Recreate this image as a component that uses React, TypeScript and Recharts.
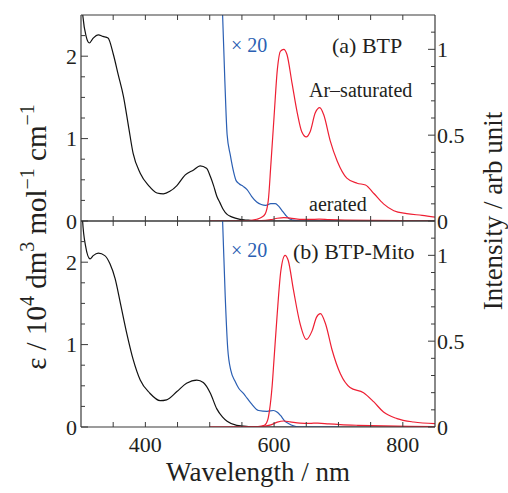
import React from 'react';
import { LineChart, Line, XAxis, YAxis } from 'recharts';

// [wavelength nm, value]
const absBTP = [
  [300, 2.8], [303, 2.48], [308, 2.24], [313, 2.16], [319, 2.22], [327, 2.26], [334, 2.24], [342, 2.22],
  [350, 2.03], [358, 1.77], [366, 1.51], [374, 1.14], [381, 0.82], [392, 0.58], [405, 0.43], [418, 0.34],
  [428, 0.33], [438, 0.36], [449, 0.43], [462, 0.56], [475, 0.62], [485, 0.67], [495, 0.64], [501, 0.54],
  [506, 0.43], [511, 0.3], [516, 0.22], [521, 0.14], [527, 0.08], [534, 0.05], [547, 0.02], [560, 0.01],
  [575, 0], [850, 0],
];
const absBTPx20 = [
  [514, 3.4], [520, 2.5], [523.5, 1.7], [527, 1.05], [532, 0.8], [537, 0.6], [541, 0.49], [546, 0.45],
  [552, 0.42], [558, 0.38], [565, 0.3], [573, 0.23], [580, 0.2], [587, 0.19], [595, 0.21], [602, 0.21],
  [607, 0.18], [612, 0.13], [618, 0.07], [623, 0.03], [630, 0.01], [640, 0], [700, 0],
];
const emBTPAr = [
  [500, 0], [560, 0.003], [573, 0.01], [580, 0.02], [586, 0.04], [591, 0.12], [595, 0.33], [600, 0.61],
  [605, 0.88], [610, 0.99], [615, 1.0], [620, 0.97], [628, 0.8], [636, 0.63], [643, 0.52], [650, 0.49],
  [656, 0.52], [664, 0.63], [671, 0.66], [677, 0.62], [687, 0.47], [698, 0.35], [713, 0.25], [729, 0.22],
  [742, 0.21], [755, 0.16], [770, 0.1], [786, 0.06], [806, 0.043], [830, 0.033], [850, 0.023],
];
const emBTPAir = [
  [500, 0], [580, 0.002], [595, 0.008], [605, 0.016], [615, 0.02], [625, 0.017], [640, 0.01], [655, 0.009],
  [670, 0.011], [685, 0.008], [710, 0.005], [750, 0.004], [800, 0.002], [850, 0.001],
];

const absMito = [
  [300, 2.9], [302.5, 2.5], [307, 2.2], [314, 2.04], [319, 2.08], [327, 2.11], [337, 2.08], [345, 1.98],
  [353, 1.8], [361, 1.51], [371, 1.14], [381, 0.82], [392, 0.57], [407, 0.41], [423, 0.32], [433, 0.33],
  [449, 0.43], [464, 0.53], [480, 0.57], [490, 0.54], [501, 0.41], [511, 0.22], [520, 0.12], [527, 0.07],
  [542, 0.02], [560, 0.005], [575, 0], [850, 0],
];
const absMitox20 = [
  [514, 3.4], [520, 2.5], [524, 1.6], [528, 0.95], [533, 0.68], [539, 0.56], [545, 0.47], [552, 0.41],
  [558, 0.35], [565, 0.28], [576, 0.2], [589, 0.19], [599, 0.2], [605, 0.18], [610, 0.14], [617, 0.07],
  [623, 0.04], [630, 0.015], [640, 0], [700, 0],
];
const emMitoAr = [
  [500, 0], [575, 0.003], [585, 0.01], [590, 0.04], [593, 0.1], [597, 0.24], [600, 0.4], [604.5, 0.64],
  [610.5, 0.91], [617, 1.0], [622, 0.97], [630, 0.8], [640.5, 0.6], [650, 0.51], [659, 0.56], [666, 0.64],
  [672, 0.66], [680, 0.6], [690, 0.45], [703, 0.31], [718, 0.23], [739, 0.2], [755, 0.146], [770, 0.087],
  [791, 0.049], [817, 0.029], [850, 0.02],
];
const emMitoAir = [
  [500, 0], [580, 0.003], [595, 0.012], [605, 0.028], [615, 0.035], [625, 0.03], [640, 0.022], [655, 0.021],
  [668, 0.023], [685, 0.018], [703, 0.014], [730, 0.01], [770, 0.006], [810, 0.004], [850, 0.003],
];

const xTicks = [350, 400, 450, 500, 550, 600, 650, 700, 750, 800];
const xLabels = [400, 600, 800];
const epsTicks = [0, 0.25, 0.5, 0.75, 1, 1.25, 1.5, 1.75, 2, 2.25];
const intTicks = [0, 0.1, 0.2, 0.3, 0.4, 0.5, 0.6, 0.7, 0.8, 0.9, 1, 1.1];

const FONT = 'Liberation Serif, Times New Roman, serif';
const INK = '#231f20';
const FRAME = '#3a3a3a';
const BLUE = '#2b5fb3';
const RED = '#ee1f33';

const serif = { fontFamily: FONT };

const toPts = (arr: number[][]) => arr.map(([x, y]) => ({ x, y }));

const isHalf = (v: number) => Math.abs(v * 2 - Math.round(v * 2)) < 1e-6;
const isInt = (v: number) => Math.abs(v - Math.round(v)) < 1e-6;

const tick = (side: string, showLabel: boolean) => (props: any) => {
  const { x, y, payload } = props;
  const v = payload.value;
  let major = false;
  let label = '';
  if (side === 'left') { major = isInt(v); label = String(Math.round(v)); }
  if (side === 'right') { major = isHalf(v); label = v === 0 ? '0' : String(Math.round(v * 2) / 2); }
  if (side === 'bottom' || side === 'top') { major = xLabels.includes(v); label = String(v); }
  const len = major ? 7 : 4;
  let line = null;
  let text = null;
  if (side === 'left') {
    line = <line x1={x} y1={y} x2={x + len} y2={y} stroke={FRAME} strokeWidth={1} />;
    if (showLabel && major) text = <text x={x - 4} y={y + 7.5} textAnchor="end" fontSize={22} style={serif} fill={INK}>{label}</text>;
  } else if (side === 'right') {
    line = <line x1={x} y1={y} x2={x - len} y2={y} stroke={FRAME} strokeWidth={1} />;
    if (showLabel && major) text = <text x={x + 2} y={y + 7.5} textAnchor="start" fontSize={22} style={serif} fill={INK}>{label}</text>;
  } else if (side === 'bottom') {
    line = <line x1={x} y1={y} x2={x} y2={y - 5} stroke={FRAME} strokeWidth={1} />;
    if (showLabel && major) text = <text x={x} y={y + 25} textAnchor="middle" fontSize={22} style={serif} fill={INK}>{label}</text>;
  } else {
    line = <line x1={x} y1={y} x2={x} y2={y + 5} stroke={FRAME} strokeWidth={1} />;
  }
  return <g>{line}{text}</g>;
};

const Panel = ({ abs, absX20, emAr, emAir, topH, bottomH, marginBottom, showX }: any) => (
  <div style={{ position: 'absolute', left: 0, top: 0 }}>
    <LineChart width={508} height={493} margin={{ top: 0, right: 0, bottom: marginBottom, left: 0 }}>
      <XAxis xAxisId="b" dataKey="x" type="number" domain={[300, 850]} allowDataOverflow ticks={xTicks} interval={0}
        height={bottomH} tickSize={0} tickMargin={0} tickLine={false} axisLine={{ stroke: FRAME, strokeWidth: 1.2 }}
        tick={tick('bottom', showX)} />
      <XAxis xAxisId="t" orientation="top" dataKey="x" type="number" domain={[300, 850]} allowDataOverflow ticks={xTicks} interval={0}
        height={topH} tickSize={0} tickMargin={0} tickLine={false} axisLine={{ stroke: FRAME, strokeWidth: 1.2 }}
        tick={tick('top', false)} />
      <YAxis yAxisId="l" type="number" domain={[0, 2.5]} allowDataOverflow ticks={epsTicks} interval={0}
        width={81} tickSize={0} tickMargin={0} tickLine={false} axisLine={{ stroke: FRAME, strokeWidth: 1.2 }}
        tick={tick('left', true)} />
      <YAxis yAxisId="r" orientation="right" type="number" domain={[0, 1.2]} allowDataOverflow ticks={intTicks} interval={0}
        width={73} tickSize={0} tickMargin={0} tickLine={false} axisLine={{ stroke: FRAME, strokeWidth: 1.2 }}
        tick={tick('right', true)} />
      <Line data={toPts(abs)} dataKey="y" xAxisId="b" yAxisId="l" type="monotone" stroke="#111" strokeWidth={1.2} dot={false} isAnimationActive={false} />
      <Line data={toPts(absX20)} dataKey="y" xAxisId="b" yAxisId="l" type="monotone" stroke={BLUE} strokeWidth={1.2} dot={false} isAnimationActive={false} />
      <Line data={toPts(emAir)} dataKey="y" xAxisId="b" yAxisId="r" type="monotone" stroke={RED} strokeWidth={1.2} dot={false} isAnimationActive={false} />
      <Line data={toPts(emAr)} dataKey="y" xAxisId="b" yAxisId="r" type="monotone" stroke={RED} strokeWidth={1.2} dot={false} isAnimationActive={false} />
    </LineChart>
  </div>
);

export default function App() {
  const sup = { fontSize: 20 };
  return (
    <div style={{ position: 'absolute', left: 0, top: 0, width: 508, height: 493, background: '#fff', ...serif }}>
      <Panel abs={absBTP} absX20={absBTPx20} emAr={emBTPAr} emAir={emBTPAir} topH={15} bottomH={30} marginBottom={493 - 221 - 30} showX={false} />
      <Panel abs={absMito} absX20={absMitox20} emAr={emMitoAr} emAir={emMitoAir} topH={221} bottomH={66} marginBottom={0} showX={true} />
      <svg width={508} height={493} style={{ position: 'absolute', left: 0, top: 0, pointerEvents: 'none', ...serif }}>
        <text x={231} y={52} fontSize={20} fill={BLUE}>× 20</text>
        <text x={332} y={53} fontSize={22} fill={INK}>(a) BTP</text>
        <text x={309} y={97} fontSize={20} fill={INK}>Ar–saturated</text>
        <text x={309} y={211} fontSize={20} fill={INK}>aerated</text>
        <text x={231} y={257} fontSize={20} fill={BLUE}>× 20</text>
        <text x={293} y={259} fontSize={22} fill={INK}>(b) BTP-Mito</text>
        <text x={258} y={481} fontSize={27} textAnchor="middle" fill={INK}>Wavelength / nm</text>
        <text transform="translate(46,237) rotate(-90)" fontSize={29} textAnchor="middle" fill={INK}>
          ε / 10<tspan dy={-12} {...sup}>4</tspan><tspan dy={12}> dm</tspan><tspan dy={-12} {...sup}>3</tspan>
          <tspan dy={12}> mol</tspan><tspan dy={-12} {...sup}>−1</tspan><tspan dy={12}> cm</tspan><tspan dy={-12} {...sup}>−1</tspan>
        </text>
        <text transform="translate(502,211) rotate(-90)" fontSize={27} textAnchor="middle" fill={INK}>Intensity / arb unit</text>
      </svg>
    </div>
  );
}
